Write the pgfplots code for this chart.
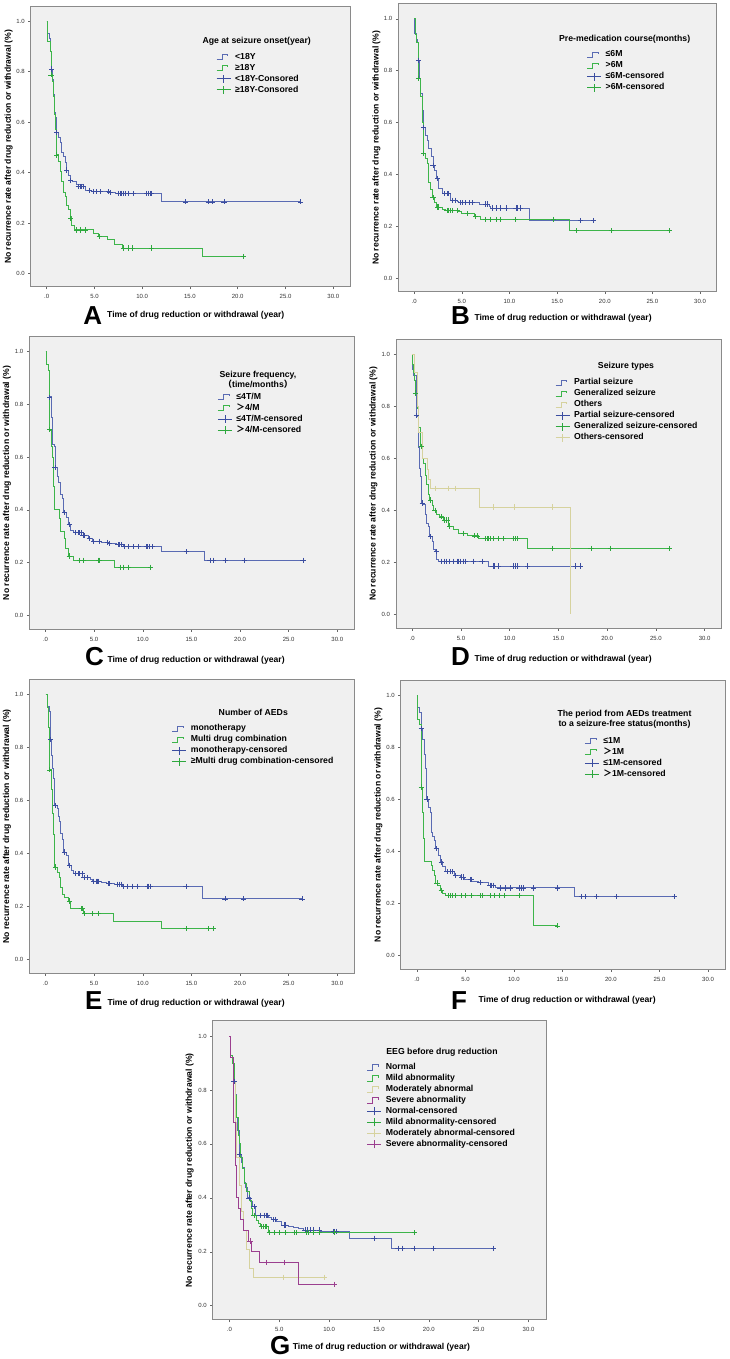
\documentclass[border=0pt]{standalone}
\usepackage{fontspec}
\setmainfont{Liberation Sans}
\newfontfamily\cjk{Noto Sans CJK SC}
\usepackage{pgfplots}
\pgfplotsset{compat=1.18}
\definecolor{bgc}{HTML}{F0F0F0}
\definecolor{frc}{HTML}{8A8A8A}
\definecolor{kblue}{HTML}{5A6BB3}
\definecolor{kbluec}{HTML}{3B4DA0}
\definecolor{kgreen}{HTML}{3DB54A}
\definecolor{kgreenc}{HTML}{2EA83E}
\definecolor{ktan}{HTML}{D6D29E}
\definecolor{kpurple}{HTML}{9B3F8F}
\newcommand\tickfont{\fontsize{6}{7}\selectfont}
\newcommand\legfont{\bfseries\fontsize{8.7}{10}\selectfont}
\newcommand\labfont{\bfseries\fontsize{8.6}{10}\selectfont}
\newcommand\letfont{\bfseries\fontsize{26}{26}\selectfont}
\pgfplotsset{
 kmaxis/.style={scale only axis, anchor=south west,
  xmin=-1.67, xmax=31.75, ymin=-0.053, ymax=1.057, clip=false,
  xtick={0,5,10,15,20,25,30}, xticklabels={.0,5.0,10.0,15.0,20.0,25.0,30.0},
  ytick={0,0.2,0.4,0.6,0.8,1}, yticklabels={0.0,0.2,0.4,0.6,0.8,1.0},
  tick pos=left, tick align=outside, major tick length=2.5pt,
  tick style={draw=black!60, line width=0.5pt},
  axis background/.style={fill=bgc},
  axis line style={draw=frc, line width=1pt},
  tick label style={font=\tickfont, text=black!80},
  xticklabel style={yshift=-1.5pt},
  every axis y label/.style={at={(axis description cs:-0.069,0.5)}, rotate=90, anchor=center, font=\labfont},
  ylabel={No recurrence rate after drug reduction or withdrawal (\%)},
  xlabel={Time of drug reduction or withdrawal (year)},
  legend cell align=left,
 },
 xlabpos/.style 2 args={every axis x label/.style={at={(axis description cs:#1,#2)}, anchor=base west, inner sep=0pt, font=\labfont}},
 leg/.style 2 args={legend style={at={(axis description cs:#1,#2)}, anchor=north west, draw=none, fill=none, inner sep=0pt, font=\legfont, row sep=0pt, nodes={inner sep=1.1pt, text height=6.8pt, text depth=2pt}, /tikz/every odd column/.append style={column sep=3pt}}},
 kmline/.style={const plot, line width=0.85pt, mark=none, color=#1,
   legend image code/.code={\draw[line width=0.8pt, ##1] (0pt,-2.6pt) -- (5.5pt,-2.6pt) -- (5.5pt,2.6pt) -- (11pt,2.6pt) -- (11pt,0.5pt);}},
 kmcens/.style={only marks, mark=+, mark size=2.6pt, color=#1, mark options={line width=0.7pt},
   legend image code/.code={\draw[line width=0.8pt, #1] (0pt,0pt)--(14pt,0pt) (7pt,-4pt)--(7pt,4pt);}},
}
\begin{document}
\begin{tikzpicture}
\useasboundingbox (0,0) rectangle (729pt,1359pt);
% ---------------- A
\begin{axis}[kmaxis, at={(30.7pt,1072pt)}, width=319.3pt, height=280.3pt, xlabpos={0.239}{-0.1081}, leg={0.5803}{0.8412}]
\addplot[kmline=kblue] coordinates {(0,1) (0.07,0.95) (0.28,0.93) (0.42,0.88) (0.52,0.81) (0.63,0.77) (0.70,0.71) (0.80,0.64) (0.87,0.62) (0.98,0.56) (1.22,0.54) (1.40,0.52) (1.57,0.48) (1.74,0.465) (1.92,0.44) (2.02,0.41) (2.27,0.39) (2.44,0.37) (2.72,0.365) (3.07,0.355) (3.84,0.345) (4.01,0.33) (4.71,0.324) (6.63,0.321) (7.15,0.317) (12.04,0.284) (26.59,0.284)};
\addlegendentry{<18Y}
\addplot[kmline=kgreen] coordinates {(0,1) (0.10,0.92) (0.35,0.88) (0.45,0.79) (0.59,0.76) (0.70,0.70) (0.80,0.63) (0.90,0.57) (0.98,0.47) (1.22,0.445) (1.47,0.405) (1.57,0.365) (1.74,0.32) (1.99,0.305) (2.09,0.27) (2.27,0.255) (2.44,0.225) (2.62,0.19) (2.86,0.173) (4.88,0.16) (5.41,0.148) (6.35,0.134) (7.05,0.117) (7.96,0.101) (16.29,0.068) (20.59,0.068)};
\addlegendentry{≥18Y}
\addplot[kmcens=kbluec] coordinates {(0.52,0.81) (1.05,0.56) (2.09,0.41) (2.51,0.37) (3.31,0.345) (3.49,0.345) (3.66,0.345) (3.84,0.345) (4.47,0.33) (4.88,0.324) (5.23,0.324) (5.58,0.324) (6.46,0.324) (6.63,0.321) (7.50,0.317) (7.68,0.317) (7.85,0.317) (8.03,0.317) (8.20,0.317) (8.55,0.317) (9.07,0.317) (10.47,0.317) (10.64,0.317) (10.82,0.317) (10.99,0.317) (14.55,0.284) (16.92,0.284) (17.34,0.284) (18.56,0.284) (26.59,0.284)};
\addlegendentry{<18Y-Consored}
\addplot[kmcens=kgreenc] coordinates {(0.45,0.787) (1.05,0.47) (2.51,0.217) (3.14,0.173) (3.49,0.173) (4.01,0.173) (5.51,0.148) (8.03,0.101) (8.55,0.101) (8.97,0.101) (10.99,0.101) (20.59,0.068)};
\addlegendentry{≥18Y-Consored}
\node[font=\legfont, align=center] at (axis description cs:0.7078,0.8751) {Age at seizure onset(year)};
\node[anchor=base west, inner sep=0pt, font=\letfont] at (axis description cs:0.1647,-0.1356) {A};
\end{axis}
% ---------------- B
\begin{axis}[kmaxis, at={(398.3pt,1067.3pt)}, width=318.4pt, height=287.7pt, xlabpos={0.2387}{-0.1018}, leg={0.5914}{0.844}]
\addplot[kmline=kblue] coordinates {(0,1) (0.04,0.945) (0.18,0.92) (0.35,0.91) (0.46,0.84) (0.56,0.77) (0.67,0.71) (0.81,0.675) (0.88,0.645) (0.99,0.58) (1.16,0.55) (1.34,0.53) (1.52,0.50) (1.80,0.47) (1.97,0.435) (2.15,0.415) (2.33,0.385) (2.57,0.345) (2.93,0.325) (3.81,0.30) (4.51,0.295) (4.69,0.29) (6.80,0.285) (7.86,0.275) (8.04,0.27) (12.09,0.222) (18.79,0.222)};
\addlegendentry{≤6M}
\addplot[kmline=kgreen] coordinates {(0,1) (0.11,0.94) (0.28,0.91) (0.46,0.77) (0.63,0.70) (0.81,0.60) (0.92,0.48) (1.16,0.46) (1.34,0.44) (1.45,0.37) (1.69,0.34) (1.87,0.31) (2.15,0.293) (2.33,0.274) (3.00,0.265) (3.28,0.26) (4.69,0.255) (4.93,0.248) (6.27,0.237) (6.98,0.226) (16.32,0.182) (26.79,0.182)};
\addlegendentry{>6M}
\addplot[kmcens=kbluec] coordinates {(0.46,0.84) (0.99,0.58) (1.97,0.435) (2.47,0.385) (3.21,0.325) (3.45,0.325) (3.63,0.325) (4.05,0.30) (4.34,0.30) (4.86,0.29) (5.04,0.29) (5.39,0.29) (5.75,0.29) (6.10,0.29) (7.51,0.285) (7.68,0.285) (8.21,0.27) (8.57,0.27) (9.09,0.27) (9.62,0.27) (10.68,0.27) (10.86,0.27) (11.10,0.27) (17.48,0.222) (18.79,0.222)};
\addlegendentry{≤6M-censored}
\addplot[kmcens=kgreenc] coordinates {(0.46,0.77) (0.99,0.48) (1.97,0.31) (2.47,0.274) (2.57,0.274) (3.45,0.26) (3.63,0.26) (3.81,0.26) (3.98,0.26) (4.51,0.26) (5.57,0.248) (6.45,0.237) (7.51,0.226) (8.04,0.226) (8.57,0.226) (8.99,0.226) (10.61,0.226) (14.63,0.226) (17.02,0.182) (20.73,0.182) (26.79,0.182)};
\addlegendentry{>6M-censored}
\node[font=\legfont, align=center] at (axis description cs:0.711,0.878) {Pre-medication course(months)};
\node[anchor=base west, inner sep=0pt, font=\letfont] at (axis description cs:0.1655,-0.1157) {B};
\end{axis}
% ---------------- C
\begin{axis}[kmaxis, at={(29.3pt,729.7pt)}, width=325pt, height=292.6pt, xlabpos={0.24}{-0.1141}, leg={0.5785}{0.8134}]
\addplot[kmline=kblue] coordinates {(0,1) (0.07,0.95) (0.25,0.93) (0.44,0.83) (0.61,0.75) (0.72,0.65) (0.89,0.64) (0.99,0.56) (1.20,0.525) (1.37,0.506) (1.54,0.46) (1.71,0.443) (1.81,0.39) (2.15,0.37) (2.39,0.346) (2.56,0.323) (2.90,0.313) (3.86,0.302) (4.37,0.291) (4.82,0.281) (5.74,0.276) (6.42,0.273) (7.28,0.268) (7.96,0.26) (11.96,0.241) (16.33,0.209) (26.48,0.209)};
\addlegendentry{≤4T/M}
\addplot[kmline=kgreen] coordinates {(0,1) (0.10,0.95) (0.25,0.93) (0.38,0.87) (0.44,0.70) (0.61,0.64) (0.75,0.60) (0.85,0.49) (0.96,0.40) (1.40,0.367) (1.54,0.317) (1.98,0.291) (2.08,0.254) (2.32,0.225) (2.90,0.209) (7.04,0.182) (10.80,0.182)};
\addlegendentry{{\cjk ＞}4/M}
\addplot[kmcens=kbluec] coordinates {(0.44,0.825) (0.96,0.56) (1.98,0.39) (2.43,0.346) (3.11,0.313) (3.38,0.313) (3.52,0.313) (3.69,0.313) (3.86,0.302) (4.03,0.302) (4.48,0.291) (4.95,0.281) (5.50,0.281) (6.35,0.276) (6.59,0.273) (7.45,0.268) (7.62,0.268) (7.79,0.268) (8.13,0.26) (8.47,0.26) (8.99,0.26) (9.50,0.26) (10.35,0.26) (10.52,0.26) (10.69,0.26) (10.97,0.26) (14.52,0.241) (16.91,0.209) (17.25,0.209) (18.48,0.209) (20.43,0.209) (26.48,0.209)};
\addlegendentry{≤4T/M-censored}
\addplot[kmcens=kgreenc] coordinates {(0.44,0.704) (2.43,0.225) (3.52,0.209) (3.93,0.209) (5.47,0.209) (5.57,0.209) (7.69,0.182) (8.03,0.182) (8.47,0.182) (10.80,0.182)};
\addlegendentry{{\cjk ＞}4/M-censored}
\node[font=\legfont, align=center] at (axis description cs:0.7037,0.8537) {\fontsize{8.7}{10.8}\selectfont Seizure frequency,\\{\cjk （}time/months{\cjk ）}};
\node[anchor=base west, inner sep=0pt, font=\letfont] at (axis description cs:0.1714,-0.1254) {C};
\end{axis}
% ---------------- D
\begin{axis}[kmaxis, at={(396pt,730.7pt)}, width=325.7pt, height=289pt, xlabpos={0.2404}{-0.1156}, leg={0.4882}{0.8699}]
\addplot[kmline=kblue] coordinates {(0,1) (0.05,0.94) (0.15,0.92) (0.41,0.76) (0.58,0.70) (0.68,0.64) (0.75,0.56) (0.85,0.53) (0.92,0.428) (1.19,0.421) (1.30,0.383) (1.43,0.348) (1.70,0.338) (1.77,0.30) (2.05,0.28) (2.22,0.25) (2.39,0.241) (2.49,0.212) (2.73,0.205) (7.84,0.186) (17.22,0.186)};
\addlegendentry{Partial seizure}
\addplot[kmline=kgreen] coordinates {(0,1) (0.05,0.96) (0.15,0.93) (0.25,0.90) (0.34,0.85) (0.51,0.79) (0.68,0.72) (0.85,0.65) (1.02,0.60) (1.19,0.58) (1.30,0.533) (1.43,0.50) (1.64,0.46) (1.81,0.44) (2.05,0.417) (2.22,0.40) (2.49,0.386) (2.83,0.375) (3.17,0.363) (3.75,0.34) (4.26,0.327) (4.77,0.312) (5.63,0.305) (6.14,0.302) (6.82,0.291) (11.83,0.254) (26.36,0.254)};
\addlegendentry{Generalized seizure}
\addplot[kmline=ktan] coordinates {(0,1) (0.17,0.93) (0.51,0.80) (0.61,0.70) (1.02,0.60) (1.53,0.559) (1.70,0.517) (1.88,0.485) (6.89,0.413) (16.20,0.0)};
\addlegendentry{Others}
\addplot[kmcens=kbluec] coordinates {(0.41,0.764) (1.02,0.428) (1.88,0.30) (2.45,0.241) (2.97,0.205) (3.24,0.205) (3.51,0.205) (3.85,0.205) (4.19,0.205) (4.60,0.205) (4.77,0.205) (4.94,0.205) (5.28,0.205) (5.46,0.205) (6.31,0.205) (7.16,0.205) (8.28,0.186) (8.42,0.186) (8.86,0.186) (10.33,0.186) (10.57,0.186) (10.81,0.186) (11.83,0.186) (16.71,0.186) (17.22,0.186)};
\addlegendentry{Partial seizure-censored}
\addplot[kmcens=kgreenc] coordinates {(0.34,0.851) (0.92,0.646) (1.88,0.44) (2.32,0.40) (2.97,0.375) (3.31,0.363) (3.51,0.363) (3.65,0.363) (3.85,0.34) (5.28,0.312) (6.41,0.302) (6.72,0.302) (7.50,0.291) (7.67,0.291) (7.84,0.291) (8.01,0.291) (8.35,0.291) (8.86,0.291) (9.38,0.291) (10.40,0.291) (10.57,0.291) (10.81,0.291) (14.39,0.254) (18.34,0.254) (20.35,0.254) (26.36,0.254)};
\addlegendentry{Generalized seizure-censored}
\addplot[kmcens=ktan] coordinates {(2.39,0.485) (3.65,0.485) (4.43,0.485) (8.35,0.413) (10.47,0.413) (14.39,0.413)};
\addlegendentry{Others-censored}
\node[font=\legfont, align=center] at (axis description cs:0.7062,0.9052) {Seizure types};
\node[anchor=base west, inner sep=0pt, font=\letfont] at (axis description cs:0.1689,-0.1304) {D};
\end{axis}
% ---------------- E
\begin{axis}[kmaxis, at={(29.3pt,385.7pt)}, width=325pt, height=294pt, xlabpos={0.24}{-0.1112}, leg={0.4382}{0.8517}]
\addplot[kmline=kblue] coordinates {(0,1) (0.17,0.955) (0.37,0.936) (0.51,0.83) (0.61,0.77) (0.71,0.72) (0.78,0.683) (0.88,0.66) (0.95,0.582) (1.19,0.569) (1.36,0.54) (1.46,0.519) (1.53,0.474) (1.70,0.452) (1.80,0.405) (2.14,0.392) (2.31,0.355) (2.65,0.336) (2.89,0.323) (3.84,0.31) (4.59,0.30) (4.86,0.295) (5.71,0.29) (6.29,0.285) (7.07,0.283) (7.92,0.276) (16.17,0.228) (26.37,0.228)};
\addlegendentry{monotherapy}
\addplot[kmline=kgreen] coordinates {(0,1) (0.17,0.95) (0.27,0.876) (0.44,0.715) (0.61,0.64) (0.71,0.55) (0.85,0.472) (0.95,0.348) (1.19,0.329) (1.39,0.31) (1.53,0.273) (1.73,0.245) (1.97,0.235) (2.31,0.22) (2.55,0.191) (3.91,0.172) (7.00,0.144) (11.93,0.115) (17.26,0.115)};
\addlegendentry{Multi drug combination}
\addplot[kmcens=kbluec] coordinates {(0.51,0.83) (1.02,0.582) (1.97,0.405) (2.48,0.355) (3.09,0.323) (3.33,0.323) (3.50,0.323) (3.77,0.323) (3.94,0.31) (4.35,0.31) (4.93,0.295) (5.20,0.295) (5.37,0.295) (5.47,0.295) (6.49,0.285) (6.56,0.285) (7.41,0.283) (7.58,0.283) (7.75,0.283) (7.99,0.276) (8.43,0.276) (8.94,0.276) (9.45,0.276) (10.47,0.276) (10.57,0.276) (10.81,0.276) (14.44,0.276) (18.45,0.228) (20.39,0.228) (26.37,0.228)};
\addlegendentry{monotherapy-censored}
\addplot[kmcens=kgreenc] coordinates {(0.44,0.715) (1.02,0.348) (2.48,0.22) (3.67,0.191) (3.77,0.191) (4.01,0.172) (4.86,0.172) (5.47,0.172) (14.44,0.115) (16.75,0.115) (17.26,0.115)};
\addlegendentry{≥Multi drug combination-censored}
\node[font=\legfont, align=center] at (axis description cs:0.6892,0.8878) {Number of AEDs};
\node[anchor=base west, inner sep=0pt, font=\letfont] at (axis description cs:0.1714,-0.1248) {E};
\end{axis}
% ---------------- F
\begin{axis}[kmaxis, at={(400.7pt,389.7pt)}, width=324.3pt, height=288.6pt, xlabpos={0.2393}{-0.1143}, leg={0.5662}{0.8108}]
\addplot[kmline=kblue] coordinates {(0,1) (0.1,0.953) (0.3,0.936) (0.44,0.872) (0.58,0.832) (0.79,0.774) (0.86,0.721) (0.96,0.698) (1.03,0.602) (1.20,0.57) (1.37,0.551) (1.47,0.475) (1.65,0.458) (1.82,0.443) (1.95,0.411) (2.23,0.385) (2.40,0.36) (2.64,0.341) (2.91,0.322) (3.87,0.309) (4.46,0.302) (4.90,0.292) (5.66,0.286) (6.34,0.281) (7.37,0.27) (8.06,0.26) (16.28,0.226) (26.57,0.226)};
\addlegendentry{≤1M}
\addplot[kmline=kgreen] coordinates {(0,1) (0.1,0.907) (0.3,0.89) (0.44,0.648) (0.58,0.55) (0.68,0.45) (0.79,0.36) (1.47,0.345) (1.61,0.328) (1.78,0.309) (1.95,0.279) (2.16,0.27) (2.40,0.251) (2.64,0.239) (2.91,0.23) (12.00,0.114) (14.50,0.114)};
\addlegendentry{{\cjk ＞}1M}
\addplot[kmcens=kbluec] coordinates {(0.44,0.872) (1.03,0.602) (1.99,0.411) (2.50,0.36) (3.09,0.322) (3.43,0.322) (3.67,0.322) (4.01,0.309) (4.63,0.302) (4.80,0.302) (5.49,0.292) (5.59,0.292) (6.51,0.281) (7.54,0.27) (7.71,0.27) (7.88,0.27) (8.57,0.26) (9.08,0.26) (9.60,0.26) (10.52,0.26) (10.73,0.26) (10.97,0.26) (12.00,0.26) (14.50,0.26) (16.97,0.226) (17.31,0.226) (18.51,0.226) (20.57,0.226) (26.57,0.226)};
\addlegendentry{≤1M-censored}
\addplot[kmcens=kgreenc] coordinates {(0.44,0.648) (2.06,0.279) (2.50,0.251) (3.19,0.23) (3.43,0.23) (3.67,0.23) (3.94,0.23) (4.56,0.23) (4.97,0.23) (5.59,0.23) (6.51,0.23) (6.75,0.23) (7.54,0.23) (7.99,0.23) (8.47,0.23) (9.02,0.23) (10.52,0.23) (14.50,0.114)};
\addlegendentry{{\cjk ＞}1M-censored}
\node[font=\legfont, align=center] at (axis description cs:0.6901,0.8649) {\fontsize{8.7}{9.6}\selectfont The period from AEDs treatment\\to a seizure-free status(months)};
\node[anchor=base west, inner sep=0pt, font=\letfont] at (axis description cs:0.1551,-0.141) {F};
\end{axis}
% ---------------- G
\begin{axis}[kmaxis, at={(212.7pt,39pt)}, width=333.3pt, height=299.3pt, xlabpos={0.24}{-0.1002}, leg={0.462}{0.8627}]
\addplot[kmline=kblue] coordinates {(0,1) (0.12,0.93) (0.3,0.90) (0.47,0.83) (0.57,0.785) (0.73,0.70) (0.80,0.65) (0.97,0.56) (1.17,0.533) (1.33,0.512) (1.47,0.459) (1.63,0.44) (1.83,0.40) (2.13,0.385) (2.33,0.367) (2.57,0.336) (3.90,0.327) (4.23,0.32) (4.73,0.311) (5.23,0.299) (5.90,0.295) (6.40,0.29) (6.90,0.285) (7.40,0.281) (9.07,0.275) (12.00,0.25) (16.23,0.213) (26.50,0.213)};
\addlegendentry{Normal}
\addplot[kmline=kgreen] coordinates {(0,1) (0.12,0.93) (0.3,0.90) (0.47,0.83) (0.60,0.78) (0.73,0.70) (0.90,0.631) (1.00,0.60) (1.13,0.551) (1.33,0.51) (1.50,0.453) (1.73,0.422) (2.00,0.391) (2.17,0.361) (2.33,0.336) (2.73,0.315) (2.90,0.305) (3.07,0.293) (3.90,0.271) (18.57,0.271)};
\addlegendentry{Mild abnormality}
\addplot[kmline=ktan] coordinates {(0,1) (0.15,0.92) (0.40,0.83) (0.57,0.68) (0.73,0.55) (1.00,0.447) (1.17,0.40) (1.23,0.35) (1.40,0.28) (1.67,0.207) (1.97,0.139) (2.40,0.106) (9.57,0.106)};
\addlegendentry{Moderately abnormal}
\addplot[kmline=kpurple] coordinates {(0,1) (0.15,0.92) (0.40,0.68) (0.57,0.52) (0.67,0.40) (0.90,0.36) (1.07,0.32) (1.40,0.28) (1.90,0.24) (2.17,0.20) (2.97,0.16) (6.97,0.08) (10.57,0.08)};
\addlegendentry{Severe abnormality}
\addplot[kmcens=kbluec] coordinates {(0.47,0.831) (1.00,0.56) (1.97,0.40) (2.47,0.367) (3.07,0.336) (3.47,0.336) (3.67,0.336) (3.80,0.336) (4.40,0.32) (4.57,0.32) (5.47,0.299) (5.57,0.299) (7.57,0.281) (7.80,0.281) (8.13,0.281) (8.40,0.281) (9.00,0.281) (10.47,0.275) (10.57,0.275) (10.73,0.275) (14.50,0.25) (16.90,0.213) (17.33,0.213) (18.50,0.213) (20.47,0.213) (26.50,0.213)};
\addlegendentry{Normal-censored}
\addplot[kmcens=kgreenc] coordinates {(2.47,0.336) (3.23,0.293) (3.40,0.293) (3.57,0.293) (3.73,0.293) (4.00,0.271) (4.50,0.271) (4.97,0.271) (5.57,0.271) (6.50,0.271) (6.73,0.271) (7.73,0.271) (7.90,0.271) (8.47,0.271) (9.00,0.271) (10.57,0.271) (18.57,0.271)};
\addlegendentry{Mild abnormality-censored}
\addplot[kmcens=ktan] coordinates {(5.40,0.106) (9.57,0.106)};
\addlegendentry{Moderately abnormal-censored}
\addplot[kmcens=kpurple] coordinates {(2.07,0.24) (3.67,0.16) (5.47,0.16) (10.57,0.08)};
\addlegendentry{Severe abnormality-censored}
\node[font=\legfont, align=center] at (axis description cs:0.688,0.8944) {EEG before drug reduction};
\node[anchor=base west, inner sep=0pt, font=\letfont] at (axis description cs:0.1719,-0.1169) {G};
\end{axis}
\end{tikzpicture}
\end{document}
